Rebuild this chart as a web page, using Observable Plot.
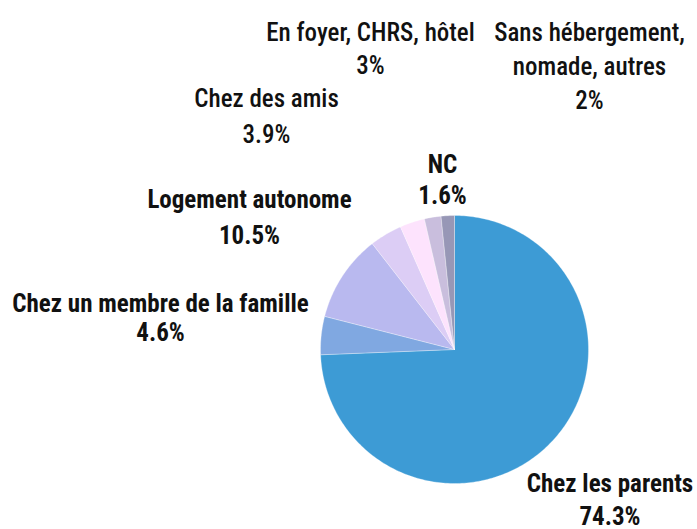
<!DOCTYPE html>
<html>
<head>
<meta charset="utf-8">
<script src="https://cdn.jsdelivr.net/npm/d3@7"></script>
<script src="https://cdn.jsdelivr.net/npm/@observablehq/plot@0.6"></script>
<style>
  html, body { margin: 0; padding: 0; background: #fff; }
  svg text { font-stretch: condensed; }
</style>
</head>
<body>
<div id="chart"></div>
<script>
// ---- Data ----
const categories = [
  "Chez les parents",
  "Chez un membre de la famille",
  "Logement autonome",
  "Chez des amis",
  "En foyer, CHRS, hôtel",
  "Sans hébergement,\nnomade, autres",
  "NC"
];
const values = [74.3, 4.6, 10.5, 3.9, 3, 2, 1.6];
const valueLabels = ["74.3%", "4.6%", "10.5%", "3.9%", "3%", "2%", "1.6%"];

// ---- Styles / layout (kept apart from data) ----
const colors = ["#3d9bd5", "#80a8e1", "#b9b9ef", "#dccdf5", "#fde3fd", "#c9bedd", "#9797b6"];
const boldLabel = [true, true, true, false, false, false, true];
// label anchor: x centre, first baseline, line spacing (pixels)
const labelX = [609.5, 160, 249, 266, 370, 589, 442];
const labelBaseline = [491, 311, 207, 106, 40, 40, 172];
const labelSpacing = [33, 29, 36, 36, 33, 34, 31];

const W = 697, H = 529;
const cx = 454, cy = 349, R = 134;
const fontSize = 25;
const fontFamily = "'Roboto Condensed', Roboto, sans-serif";

const data = categories.map((c, i) => ({cat: c, value: values[i], i}));
const arcs = d3.pie().sort(null).value(d => d.value)(data);

// polygon points for each slice, derived from the pie angles
const slicePts = [];
for (const a of arcs) {
  const n = Math.max(2, Math.ceil((a.endAngle - a.startAngle) * 180 / Math.PI));
  slicePts.push({cat: a.data.cat, px: cx, py: cy});
  for (let k = 0; k <= n; k++) {
    const t = a.startAngle + (a.endAngle - a.startAngle) * k / n;
    slicePts.push({cat: a.data.cat, px: cx + R * Math.sin(t), py: cy - R * Math.cos(t)});
  }
  slicePts.push({cat: a.data.cat, px: cx, py: cy});
}

// text rows
const textRows = [];
data.forEach((d, i) => {
  const lines = d.cat.split("\n").concat([valueLabels[i]]);
  lines.forEach((line, k) => {
    textRows.push({
      text: line,
      bold: boldLabel[i],
      tx: labelX[i],
      ty: labelBaseline[i] + k * labelSpacing[i] - 0.32 * fontSize
    });
  });
});

const chart = Plot.plot({
  width: W,
  height: H,
  margin: 0,
  x: {domain: [0, W], range: [0, W], axis: null},
  y: {domain: [0, H], range: [0, H], axis: null},
  color: {type: "ordinal", domain: categories, range: colors},
  style: {background: "#fff", fontFamily},
  marks: [
    Plot.line(slicePts, {
      x: "px", y: "py", z: "cat", fill: "cat",
      stroke: "#ffffff", strokeWidth: 0.5, strokeOpacity: 0.6, curve: "linear"
    }),
    Plot.text(textRows.filter(d => d.bold), {
      x: "tx", y: "ty", text: "text",
      fontSize, fontWeight: "bold", fontFamily, fill: "#111",
      textAnchor: "middle", lineAnchor: "middle"
    }),
    Plot.text(textRows.filter(d => !d.bold), {
      x: "tx", y: "ty", text: "text",
      fontSize, fontWeight: 500, fontFamily, fill: "#111",
      textAnchor: "middle", lineAnchor: "middle"
    })
  ]
});

document.getElementById("chart").appendChild(chart);
</script>
</body>
</html>
